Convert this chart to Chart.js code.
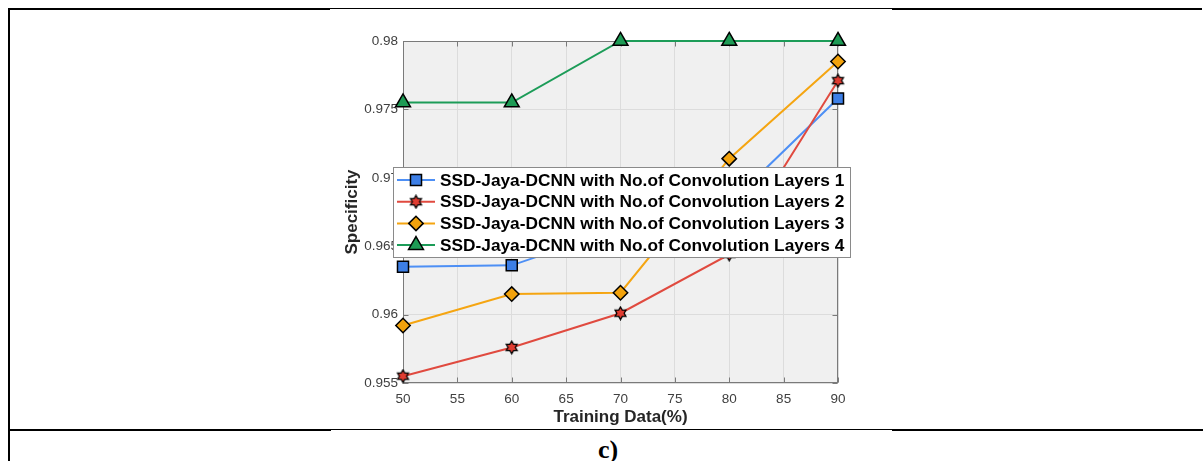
<!DOCTYPE html>
<html lang="en">
<head>
<meta charset="UTF-8">
<title>Specificity vs Training Data</title>
<script src="https://cdn.jsdelivr.net/npm/chart.js"></script>
<style>
body{margin:0;background:#fff;width:1203px;height:461px;position:relative;overflow:hidden;font-family:Arial,"Liberation Sans",sans-serif}
.ln{position:absolute;background:#000}
.chart-box{position:absolute;left:335px;top:12px;width:555px;height:416px}
.caption{position:absolute;left:0;width:1216px;top:435px;line-height:26px;text-align:center;font:bold 26px "Liberation Serif","Times New Roman",serif}
</style>
</head>
<body>
<div class="ln" style="left:8px;top:8px;width:322px;height:2px"></div>
<div class="ln" style="left:330px;top:8px;width:562px;height:1px"></div>
<div class="ln" style="left:892px;top:8px;width:310px;height:2px"></div>
<div class="ln" style="left:8px;top:8px;width:2px;height:453px"></div>
<div class="ln" style="left:8px;top:429px;width:323px;height:2px"></div>
<div class="ln" style="left:331px;top:429px;width:561px;height:1px"></div>
<div class="ln" style="left:892px;top:429px;width:311px;height:2px"></div>

<div class="chart-box"><canvas id="chart"></canvas></div>
<div class="caption">c)</div>

<script>
const trainingData=[50,60,70,80,90];
const layers1=[0.9635,0.9636,0.9663,0.9681,0.9758];
const layers2=[0.9555,0.9576,0.9601,0.9644,0.9771];
const layers3=[0.9592,0.9615,0.9616,0.9714,0.9785];
const layers4=[0.9755,0.9755,0.98,0.98,0.98];
const seriesNames=[
    'SSD-Jaya-DCNN with No.of Convolution Layers 1',
    'SSD-Jaya-DCNN with No.of Convolution Layers 2',
    'SSD-Jaya-DCNN with No.of Convolution Layers 3',
    'SSD-Jaya-DCNN with No.of Convolution Layers 4'
];

// matlab style hexagram marker
function hexagram(size,fill){
    const cv=document.createElement('canvas');cv.width=cv.height=size;
    const g=cv.getContext('2d'),c=size/2,R=size/2-1.2,r=R/Math.sqrt(3);
    g.beginPath();
    for(let k=0;k<12;k++){const a=-Math.PI/2+k*Math.PI/6,rr=k%2?r:R;g.lineTo(c+rr*Math.cos(a),c+rr*Math.sin(a));}
    g.closePath();g.fillStyle=fill;g.fill();g.lineWidth=1.3;g.strokeStyle='#000';g.stroke();
    return cv;
}
const pts=v=>v.map((y,i)=>({x:trainingData[i],y:y}));

const plotFrame={
    id:'plotFrame',
    beforeDraw(c){
        const a=c.chartArea,ctx=c.ctx;
        ctx.save();ctx.fillStyle='#f0f0f0';ctx.fillRect(a.left,a.top,a.width,a.height);ctx.restore();
    },
    beforeDatasetsDraw(c){
        const a=c.chartArea,ctx=c.ctx,L=Math.round(a.left)+0.5,R=Math.round(a.right)-0.5,T=Math.round(a.top)+0.5,B=Math.round(a.bottom)-0.5;
        ctx.save();ctx.strokeStyle='#7a7a7a';ctx.lineWidth=1;
        ctx.strokeRect(L,T,R-L,B-T);
        ctx.beginPath();
        c.scales.x.ticks.forEach(t=>{const p=Math.round(c.scales.x.getPixelForValue(t.value))+0.5;ctx.moveTo(p,B);ctx.lineTo(p,B-5);ctx.moveTo(p,T);ctx.lineTo(p,T+5);});
        c.scales.y.ticks.forEach(t=>{const p=Math.round(c.scales.y.getPixelForValue(t.value))+0.5;ctx.moveTo(L,p);ctx.lineTo(L+5,p);ctx.moveTo(R,p);ctx.lineTo(R-5,p);});
        ctx.stroke();ctx.restore();
    },
    afterDatasetsDraw(c){
        const a=c.chartArea,ctx=c.ctx,bx=Math.round(a.left)-10,by=Math.round(a.top)+126,bw=457,bh=90;
        ctx.save();
        ctx.fillStyle='#fff';ctx.fillRect(bx,by,bw,bh);
        ctx.strokeStyle='#8a8a8a';ctx.lineWidth=1;ctx.strokeRect(bx+0.5,by+0.5,bw,bh);
        c.data.datasets.forEach((ds,i)=>{
            const y=by+13+i*21.7;
            ctx.strokeStyle=ds.borderColor;ctx.lineWidth=2;
            ctx.beginPath();ctx.moveTo(bx+4,y);ctx.lineTo(bx+42,y);ctx.stroke();
            ctx.fillStyle=ds.pointBackgroundColor;ctx.strokeStyle='#000';ctx.lineWidth=ds.pointBorderWidth;
            Chart.helpers.drawPoint(ctx,{pointStyle:ds.pointStyle,radius:ds.pointRadius,borderWidth:ds.pointBorderWidth,rotation:0},bx+23,y);
            ctx.fillStyle='#000';ctx.font='bold 17.3px Arial, "Liberation Sans", sans-serif';ctx.textBaseline='middle';ctx.textAlign='left';
            ctx.fillText(ds.label,bx+47,y+1);
        });
        ctx.restore();
    }
};

const ds=(label,data,line,fill,style,radius,order)=>({label:label,data:pts(data),borderColor:line,backgroundColor:line,borderWidth:2,
    pointStyle:style,pointRadius:radius,pointBackgroundColor:fill,pointBorderColor:'#000',pointBorderWidth:1.5,clip:false,order:order});

new Chart(document.getElementById('chart'),{
    type:'line',
    data:{datasets:[
        ds(seriesNames[0],layers1,'#4d8ff5','#3d7fe6','rect',7.8,4),
        ds(seriesNames[1],layers2,'#e04a3f',hexagram(15,'#e03c31'),hexagram(15,'#e03c31'),6,3),
        ds(seriesNames[2],layers3,'#f5a511','#f2a20c','rectRot',7.2,2),
        ds(seriesNames[3],layers4,'#1c9c58','#1e9b55','triangle',8.6,1)
    ]},
    options:{
        responsive:true,maintainAspectRatio:false,animation:false,events:[],
        layout:{padding:{left:0,right:52,top:29,bottom:0}},
        plugins:{legend:{display:false},tooltip:{enabled:false}},
        scales:{
            x:{type:'linear',min:50,max:90,
                afterFit:s=>{s.height=45;},
                ticks:{stepSize:5,padding:8,color:'#404040',font:{size:13.5}},
                grid:{color:'#dcdcdc',drawTicks:false},border:{display:false},
                title:{display:true,text:'Training Data(%)',color:'#262626',font:{size:17,weight:'bold'},padding:{top:0,bottom:0}}},
            y:{min:0.955,max:0.98,
                afterFit:s=>{s.width=68;},
                ticks:{stepSize:0.005,padding:5,color:'#404040',font:{size:13.5},callback:v=>String(Number(v.toFixed(3)))},
                grid:{color:'#dcdcdc',drawTicks:false},border:{display:false},
                title:{display:true,text:'Specificity',color:'#262626',font:{size:17,weight:'bold'},padding:{top:7,bottom:0}}}
        }
    },
    plugins:[plotFrame]
});
</script>
</body>
</html>
